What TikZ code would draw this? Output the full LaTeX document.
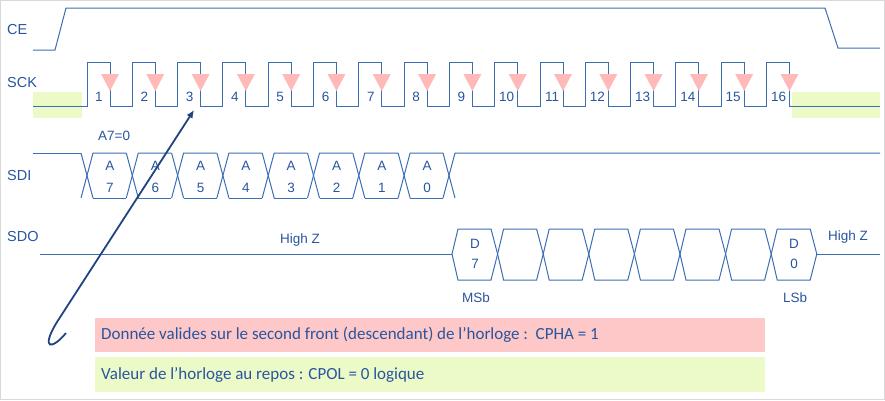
\documentclass[tikz,border=0pt]{standalone}
\usepackage{fontspec}
\setmainfont{Liberation Sans}
\newfontfamily\carlitofont{Carlito}
\usetikzlibrary{arrows.meta}
\definecolor{sig}{RGB}{60,110,180}
\definecolor{txt}{RGB}{40,85,160}
\definecolor{pinkb}{RGB}{255,200,200}
\definecolor{greenb}{RGB}{236,250,200}
\definecolor{pinkt}{RGB}{255,185,185}
\tikzset{x=1pt,y=-1pt,
 wave/.style={draw=sig,line width=1pt},
 lab/.style={text=txt,font=\fontsize{14.5}{15}\selectfont,inner sep=0pt},
 num/.style={text=txt,font=\fontsize{13.5}{14}\selectfont,inner sep=0pt},
 boxtxt/.style={text=txt,font=\carlitofont\fontsize{17}{18}\selectfont,anchor=west,inner sep=0pt}}
\begin{document}
\begin{tikzpicture}
\useasboundingbox (0,0) rectangle (885,400);
\draw[gray!30] (0.5,0.5) rectangle (884,399);
% green idle boxes
\fill[greenb] (33,92) rectangle (82,118);
\fill[greenb] (792,92) rectangle (880,118);
% labels
\node[lab,anchor=west] (ce) at (7,30) {CE};
\node[lab,anchor=west] (sck) at (7,83) {SCK};
\node[lab,anchor=west] (sdi) at (7,176) {SDI};
\node[lab,anchor=west] (sdo) at (7,237) {SDO};
% CE
\draw[wave] (33,50) -- (55,50) -- (66,8) -- (825,8) -- (838,48) -- (880,48);
% SCK
\draw[wave] (33,106)
\foreach \k in {0,...,15}{ -- ({87+45.3*\k},106) -- ({87+45.3*\k},62) -- ({110+45.3*\k},62) -- ({110+45.3*\k},106)} -- (880,106);
\foreach \k in {1,...,16}{
  \fill[pinkt] ({110+45.3*(\k-1)-9},74) -- ({110+45.3*(\k-1)+9},74) -- ({110+45.3*(\k-1)},91) -- cycle;
  \node[num] (n\k) at ({99+45.3*(\k-1)},97) {\k};
}
% SDI
\node[num,anchor=west] (a70) at (98,136) {A7=0};
\draw[wave] (33,153) -- (81,153);
\foreach \k in {0,...,7}{
  \draw[wave] ({81+45.3*\k},153) -- ({93+45.3*\k},198);
  \draw[wave] ({81+45.3*\k},198) -- ({93+45.3*\k},153) -- ({126+45.3*\k},153);
  \draw[wave] ({93+45.3*\k},198) -- ({126+45.3*\k},198);
}
\draw[wave] (443,153) -- (455,198);
\draw[wave] (443,198) -- (455,153) -- (880,153);
\foreach \l [count=\i from 0] in {7,6,5,4,3,2,1,0}{
  \node[num] (sa\i) at ({110+45.3*\i},166) {A};
  \node[num] (sd\i) at ({110+45.3*\i},188) {\l};
}
% SDO
\draw[wave] (40,254) -- (452,254);
\foreach \k in {0,...,7}{
  \draw[wave] ({452+45.6*\k},254) -- ({458+45.6*\k},229) -- ({491+45.6*\k},229) -- ({497.6+45.6*\k},254) -- ({491+45.6*\k},280) -- ({458+45.6*\k},280) -- cycle;
}
\draw[wave] (817,254) -- (880,254);
\node[num] (hz1) at (300,240) {High Z};
\node[num] (hz2) at (848,237) {High Z};
\node[num] (d7a) at (475,244) {D};
\node[num] (d7b) at (475,264) {7};
\node[num] (d0a) at (794,244) {D};
\node[num] (d0b) at (794,264) {0};
\node[num] (msb) at (476,298) {MSb};
\node[num] (lsb) at (795,298) {LSb};
% boxes
\fill[pinkb] (95,318) rectangle (765,352);
\fill[greenb] (95,357) rectangle (765,392);
\node[boxtxt] (t1) at (101,335) {Donnée valides sur le second front (descendant) de l’horloge :\ \ CPHA = 1};
\node[boxtxt] (t2) at (101,375) {Valeur de l’horloge au repos : CPOL = 0 logique};
% arrow
\coordinate (tip) at (194,110);
\draw[draw=txt!80!black,line width=1.8pt,-{Latex[length=8pt,width=7pt]}] (66,333) .. controls (52,350) and (40,350) .. (57,322) -- (tip);
\end{tikzpicture}
\end{document}
